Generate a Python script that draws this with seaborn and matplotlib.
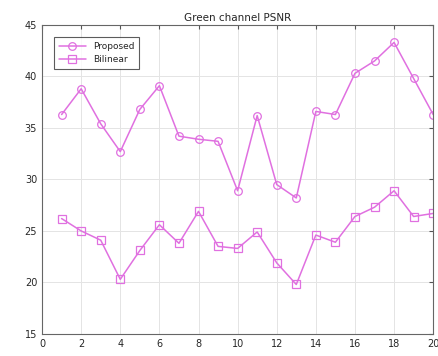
import matplotlib
matplotlib.use('Agg')
import matplotlib.pyplot as plt
import seaborn as sns
import pandas as pd

images = list(range(1, 21))
proposed = [36.3, 38.8, 35.4, 32.7, 36.8, 39.1, 34.2, 33.9, 33.7, 28.9,
            36.2, 29.5, 28.2, 36.6, 36.3, 40.3, 41.5, 43.3, 39.8, 36.3]
bilinear = [26.2, 25.0, 24.1, 20.3, 23.1, 25.6, 23.8, 26.9, 23.5, 23.3,
            24.9, 21.9, 19.8, 24.6, 23.9, 26.4, 27.3, 28.9, 26.4, 26.7]

df = pd.DataFrame({
    'Image': images * 2,
    'PSNR': proposed + bilinear,
    'Method': ['Proposed'] * 20 + ['Bilinear'] * 20,
})

sns.set_style('white')
plt.rcParams['font.family'] = ['DejaVu Sans']

fig = plt.figure(figsize=(4.38, 3.56), dpi=100)
ax = fig.add_axes([0.096, 0.062, 0.893, 0.868])

magenta = '#e070e0'
sns.lineplot(data=df, x='Image', y='PSNR', hue='Method', style='Method',
             markers=['o', 's'], dashes=False, palette=[magenta, magenta],
             markersize=5.5, markerfacecolor='none', markeredgecolor=magenta,
             markeredgewidth=0.9, linewidth=1.1, ax=ax)

ax.set_xlim(0, 20)
ax.set_ylim(15, 45)
ax.set_xticks(range(0, 21, 2))
ax.set_yticks(range(15, 46, 5))
ax.grid(True, color='#e4e4e4', linewidth=0.7)
ax.tick_params(direction='in', labelsize=7, length=3, color='#555555',
               top=True, right=True)
for s in ax.spines.values():
    s.set_color('#666666')
    s.set_linewidth(0.8)
ax.set_xlabel('')
ax.set_ylabel('')
ax.set_title('Green channel PSNR', fontsize=7.5, pad=3)

leg = ax.legend(loc='upper left', bbox_to_anchor=(0.02, 0.975), fontsize=6.5,
                frameon=True, fancybox=False, edgecolor='#333333',
                handlelength=3, borderpad=0.5)
leg.get_frame().set_linewidth(0.8)

fig.savefig('out.png', dpi=100)
